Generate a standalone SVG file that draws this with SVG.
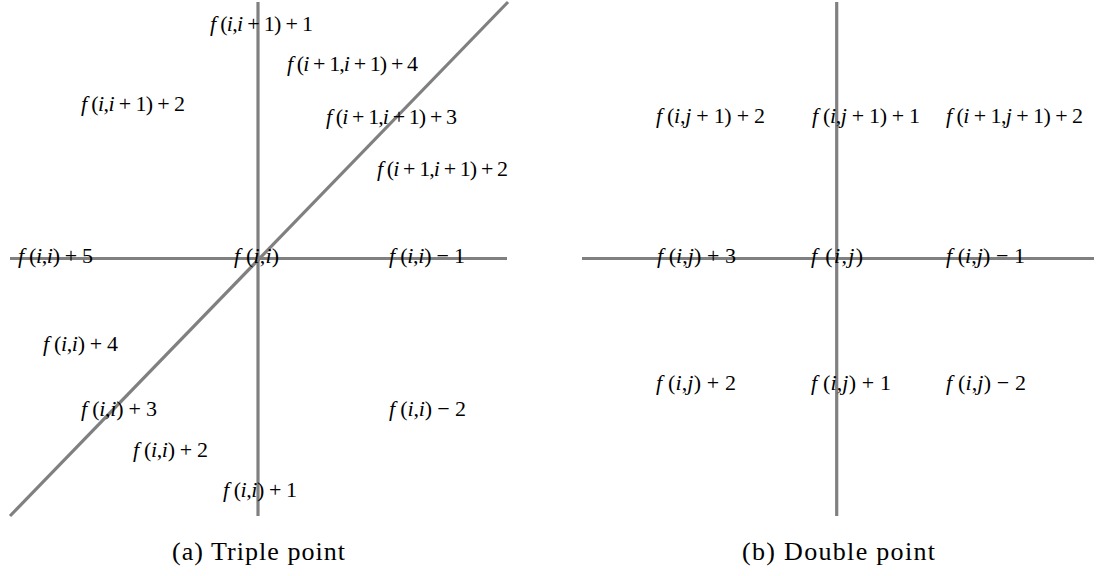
<svg xmlns="http://www.w3.org/2000/svg" width="1097" height="576" viewBox="0 0 1097 576">
<style>
text{font-family:"Liberation Serif","DejaVu Serif",serif;font-size:22px;fill:#000;white-space:pre}
.v{font-style:italic}
.cap{font-size:26px}
.ln{stroke:#808080;stroke-width:3.2;fill:none}
</style>
<rect width="1097" height="576" fill="#fff"/>
<g id="connectors">
<line class="ln" x1="10" y1="258.5" x2="507" y2="258.5"/>
<line class="ln" x1="258" y1="2" x2="258" y2="516"/>
<line class="ln" x1="10" y1="516" x2="508" y2="2"/>
<line class="ln" x1="582" y1="258.5" x2="1094" y2="258.5"/>
<line class="ln" x1="836.7" y1="2" x2="836.7" y2="516"/>
</g>
<g id="a-n1"><text x="210" y="31" textLength="103" lengthAdjust="spacing"><tspan class="v">f</tspan> (<tspan class="v">i</tspan>,<tspan class="v">i</tspan> + 1) + 1</text></g>
<g id="a-n2"><text x="287" y="71" textLength="131" lengthAdjust="spacing"><tspan class="v">f</tspan> (<tspan class="v">i</tspan> + 1,<tspan class="v">i</tspan> + 1) + 4</text></g>
<g id="a-n3"><text x="81" y="111" textLength="104" lengthAdjust="spacing"><tspan class="v">f</tspan> (<tspan class="v">i</tspan>,<tspan class="v">i</tspan> + 1) + 2</text></g>
<g id="a-n4"><text x="326" y="124" textLength="131" lengthAdjust="spacing"><tspan class="v">f</tspan> (<tspan class="v">i</tspan> + 1,<tspan class="v">i</tspan> + 1) + 3</text></g>
<g id="a-n5"><text x="377" y="176" textLength="131" lengthAdjust="spacing"><tspan class="v">f</tspan> (<tspan class="v">i</tspan> + 1,<tspan class="v">i</tspan> + 1) + 2</text></g>
<g id="a-n6"><text x="18" y="263" textLength="75" lengthAdjust="spacing"><tspan class="v">f</tspan> (<tspan class="v">i</tspan>,<tspan class="v">i</tspan>) + 5</text></g>
<g id="a-n7"><text x="234" y="263" textLength="45" lengthAdjust="spacing"><tspan class="v">f</tspan> (<tspan class="v">i</tspan>,<tspan class="v">i</tspan>)</text></g>
<g id="a-n8"><text x="389" y="263" textLength="76" lengthAdjust="spacing"><tspan class="v">f</tspan> (<tspan class="v">i</tspan>,<tspan class="v">i</tspan>) − 1</text></g>
<g id="a-n9"><text x="43" y="351" textLength="75" lengthAdjust="spacing"><tspan class="v">f</tspan> (<tspan class="v">i</tspan>,<tspan class="v">i</tspan>) + 4</text></g>
<g id="a-n10"><text x="81" y="416" textLength="76" lengthAdjust="spacing"><tspan class="v">f</tspan> (<tspan class="v">i</tspan>,<tspan class="v">i</tspan>) + 3</text></g>
<g id="a-n11"><text x="389" y="416" textLength="77" lengthAdjust="spacing"><tspan class="v">f</tspan> (<tspan class="v">i</tspan>,<tspan class="v">i</tspan>) − 2</text></g>
<g id="a-n12"><text x="133" y="457" textLength="75" lengthAdjust="spacing"><tspan class="v">f</tspan> (<tspan class="v">i</tspan>,<tspan class="v">i</tspan>) + 2</text></g>
<g id="a-n13"><text x="223" y="497" textLength="74" lengthAdjust="spacing"><tspan class="v">f</tspan> (<tspan class="v">i</tspan>,<tspan class="v">i</tspan>) + 1</text></g>
<g id="a-caption"><text class="cap" x="172" y="560" textLength="173" lengthAdjust="spacing">(a) Triple point</text></g>
<g id="b-n1"><text x="656" y="123" textLength="109" lengthAdjust="spacing"><tspan class="v">f</tspan> (<tspan class="v">i</tspan>,<tspan class="v">j</tspan> + 1) + 2</text></g>
<g id="b-n2"><text x="812" y="123" textLength="108" lengthAdjust="spacing"><tspan class="v">f</tspan> (<tspan class="v">i</tspan>,<tspan class="v">j</tspan> + 1) + 1</text></g>
<g id="b-n3"><text x="946" y="123" textLength="137" lengthAdjust="spacing"><tspan class="v">f</tspan> (<tspan class="v">i</tspan> + 1,<tspan class="v">j</tspan> + 1) + 2</text></g>
<g id="b-n4"><text x="657" y="263" textLength="79" lengthAdjust="spacing"><tspan class="v">f</tspan> (<tspan class="v">i</tspan>,<tspan class="v">j</tspan>) + 3</text></g>
<g id="b-n5"><text x="811" y="263" textLength="52" lengthAdjust="spacing"><tspan class="v">f</tspan> (<tspan class="v">i</tspan>,<tspan class="v">j</tspan>)</text></g>
<g id="b-n6"><text x="946" y="263" textLength="79" lengthAdjust="spacing"><tspan class="v">f</tspan> (<tspan class="v">i</tspan>,<tspan class="v">j</tspan>) − 1</text></g>
<g id="b-n7"><text x="656" y="390" textLength="80" lengthAdjust="spacing"><tspan class="v">f</tspan> (<tspan class="v">i</tspan>,<tspan class="v">j</tspan>) + 2</text></g>
<g id="b-n8"><text x="811" y="390" textLength="80" lengthAdjust="spacing"><tspan class="v">f</tspan> (<tspan class="v">i</tspan>,<tspan class="v">j</tspan>) + 1</text></g>
<g id="b-n9"><text x="946" y="390" textLength="80" lengthAdjust="spacing"><tspan class="v">f</tspan> (<tspan class="v">i</tspan>,<tspan class="v">j</tspan>) − 2</text></g>
<g id="b-caption"><text class="cap" x="742" y="560" textLength="193" lengthAdjust="spacing">(b) Double point</text></g>
</svg>
